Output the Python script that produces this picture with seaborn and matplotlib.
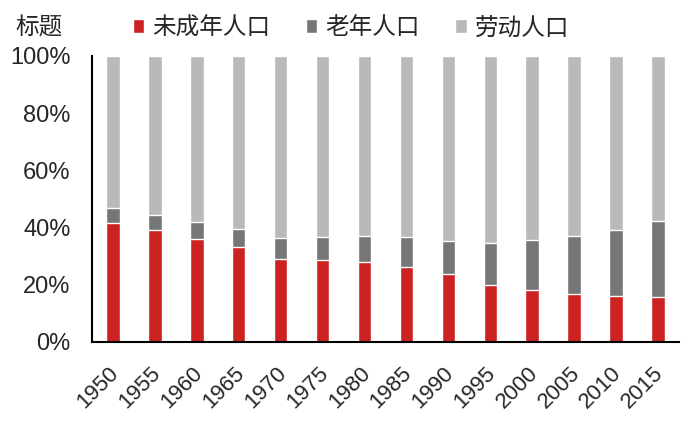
import matplotlib
matplotlib.use("Agg")
import matplotlib.pyplot as plt
import matplotlib.transforms as mtransforms
import seaborn as sns
import pandas as pd
import numpy as np
from matplotlib.patches import Patch

years = ["1950", "1955", "1960", "1965", "1970", "1975", "1980",
         "1985", "1990", "1995", "2000", "2005", "2010", "2015"]
minor_pct = [41.6, 39.3, 36.0, 33.3, 29.1, 28.8, 28.1,
             26.3, 23.7, 20.0, 18.3, 16.9, 16.1, 15.8]
elderly_pct = [5.3, 5.2, 6.0, 6.2, 7.3, 7.9, 9.0,
               10.4, 11.6, 14.6, 17.4, 20.2, 23.1, 26.5]
labor_pct = [53.1, 55.5, 58.0, 60.5, 63.6, 63.3, 62.9,
             63.3, 64.7, 65.4, 64.3, 62.9, 60.8, 57.7]
series_names = ["未成年人口", "老年人口", "劳动人口"]
y_ticks = [0, 20, 40, 60, 80, 100]

c_red = "#CC2222"
c_dark = "#767676"
c_light = "#B9B9B9"

sns.set_theme(style="white")
plt.rcParams["font.family"] = ["Liberation Sans", "Noto Sans CJK SC", "DejaVu Sans"]
cjk = ["Noto Sans CJK SC", "DejaVu Sans"]

df = pd.DataFrame({"year": years, "minor": minor_pct, "elderly": elderly_pct, "labor": labor_pct})
df["cum2"] = df["minor"] + df["elderly"]
df["cum3"] = df["cum2"] + df["labor"]

fig = plt.figure(figsize=(6.92, 4.21), dpi=100)
ax = fig.add_axes([0.133, 0.188, 0.848, 0.679])

w = 0.32
sns.barplot(data=df, x="year", y="cum3", color=c_light, width=w, saturation=1, ax=ax)
sns.barplot(data=df, x="year", y="cum2", color=c_dark, width=w, saturation=1, ax=ax)
sns.barplot(data=df, x="year", y="minor", color=c_red, width=w, saturation=1, ax=ax)

n = len(years)
ax.set_xlim(-0.5, n - 0.5)
ax.set_ylim(0, 100)
ax.set_xlabel("")
ax.set_ylabel("")

ax.set_yticks(y_ticks)
ax.set_yticklabels([f"{v}%" for v in y_ticks], fontsize=17)
ax.set_xticks(range(n))
ax.set_xticklabels(years, fontsize=16, rotation=45, ha="right", rotation_mode="anchor")
ax.set_xticks(np.arange(-0.5, n, 1.0), minor=True)
ax.tick_params(axis="x", which="major", length=0, pad=15)
ax.tick_params(axis="x", which="minor", length=4.5, width=1.5, direction="out", color="black")
ax.tick_params(axis="y", which="major", length=4.5, width=1.5, direction="out", color="black", pad=11)

offset = mtransforms.ScaledTranslation(-5 / 100, 0, fig.dpi_scale_trans)
for lab in ax.get_xticklabels():
    lab.set_transform(lab.get_transform() + offset)

for s in ["top", "right"]:
    ax.spines[s].set_visible(False)
for s in ["left", "bottom"]:
    ax.spines[s].set_color("black")
    ax.spines[s].set_linewidth(1.5)

handles = [Patch(facecolor=c_red), Patch(facecolor=c_dark), Patch(facecolor=c_light)]
leg = fig.legend(handles, series_names, loc="center left", bbox_to_anchor=(0.161, 0.9335),
                 ncol=3, frameon=False, handlelength=0.5, handleheight=0.5,
                 handletextpad=0.34, columnspacing=1.48, borderpad=0.4,
                 prop={"family": cjk, "size": 17})
fig.text(15 / 692, 0.9335, "标题", fontsize=17, family=cjk, va="center", ha="left")

fig.savefig("out.png", dpi=100)
